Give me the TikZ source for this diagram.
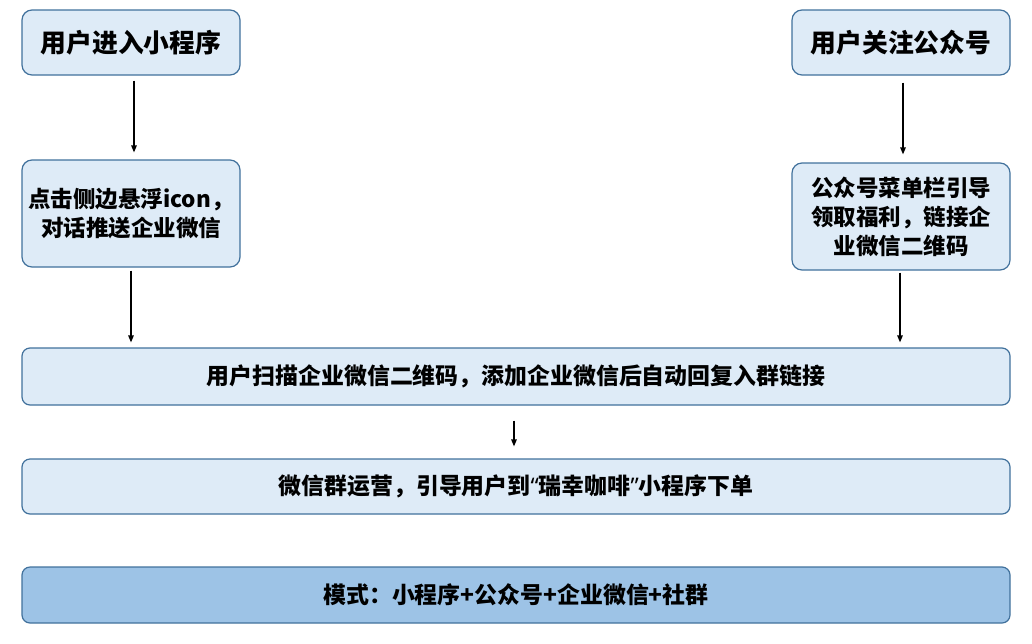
\documentclass[tikz,border=0pt]{standalone}
\usepackage{fontspec}
\setmainfont{Noto Sans CJK SC}
\newfontfamily\latinfont{Noto Sans}
\usetikzlibrary{arrows.meta}
\definecolor{light}{HTML}{DEEBF7}
\definecolor{dark}{HTML}{9DC3E6}
\definecolor{edge}{HTML}{41719C}
\begin{document}
\begin{tikzpicture}[x=1pt,y=-1pt,
    box/.style={draw=edge,fill=light,line width=1.2pt,rounded corners=10pt,
      align=center,inner sep=0pt,minimum width=218pt},
    head/.style={box,minimum height=65pt,font=\bfseries\fontsize{25.8}{30}\selectfont},
    side/.style={box,minimum height=107pt,font=\bfseries\fontsize{22.5}{29}\selectfont},
    wide/.style={box,minimum width=988pt,rounded corners=8pt,
      font=\bfseries\fontsize{22.9}{26}\selectfont},
    flow/.style={-{Triangle[length=7pt,width=5.5pt]},line width=1.3pt}]
  \useasboundingbox (0,0) rectangle (1032,643);
  % left column
  \node[head] (enter) at (131,42.5) {用户进入小程序};
  \node[side] (float) at (131,213.5) {点击侧边悬浮icon，\\对话推送企业微信};
  % right column
  \node[head] (follow) at (901,42.5) {用户关注公众号};
  \node[side] (menu) at (901,216.5) {公众号菜单栏引导\\领取福利，链接企\\业微信二维码};
  % full width rows
  \node[wide,minimum height=57pt] (scan) at (516,376.5) {用户扫描企业微信二维码，添加企业微信后自动回复入群链接};
  \node[wide,minimum height=55pt] (group) at (516,486.5) {微信群运营，引导用户到{\latinfont“}瑞幸咖啡{\latinfont”}小程序下单};
  \node[wide,minimum height=56pt,fill=dark] (mode) at (516,595) {模式：小程序+公众号+企业微信+社群};
  \draw[flow,shorten <=5pt,shorten >=7pt] ([xshift=3pt]enter.south) -- ([xshift=3pt]float.north);
  \draw[flow,shorten <=7pt,shorten >=8pt] ([xshift=2pt]follow.south) -- ([xshift=2pt]menu.north);
  \draw[flow,shorten <=3pt,shorten >=5pt] (float.south) -- (float.south |- scan.north);
  \draw[flow,shorten <=2pt,shorten >=5pt] ([xshift=-1pt]menu.south) -- ([xshift=-1pt]menu.south |- scan.north);
  \draw[flow,shorten <=15pt,shorten >=12pt] ([xshift=-2pt]scan.south) -- ([xshift=-2pt]group.north);
\end{tikzpicture}
\end{document}
